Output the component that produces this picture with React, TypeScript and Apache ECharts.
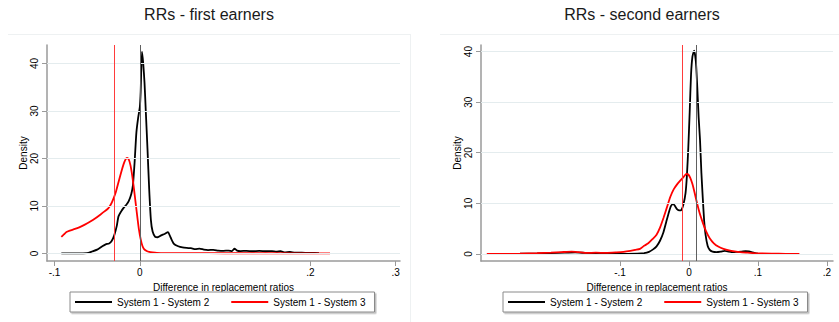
import React, { useEffect, useRef } from 'react';
import * as echarts from 'echarts';

// ---- Data ----
const titles = ['RRs - first earners', 'RRs - second earners'];
const seriesNames = ['System 1 - System 2', 'System 1 - System 3'];
const xAxisTitle = 'Difference in replacement ratios';
const yAxisTitle = 'Density';

const yTicks = [0, 10, 20, 30, 40];
const leftXTicks = [-0.1, 0, 0.2, 0.3];
const rightXTicks = [-0.1, 0, 0.1, 0.2];

// Left panel: first earners
const leftS2X = [-0.092, -0.075, -0.062, -0.056, -0.050, -0.044, -0.040, -0.036, -0.033, -0.030, -0.027, -0.025, -0.022, -0.019, -0.016, -0.013, -0.010, -0.008, -0.006, -0.004, -0.002, 0.000, 0.001, 0.0025, 0.004, 0.0055, 0.007, 0.009, 0.011, 0.013, 0.015, 0.018, 0.021, 0.025, 0.029, 0.033, 0.036, 0.040, 0.045, 0.050, 0.055, 0.060, 0.065, 0.070, 0.075, 0.080, 0.086, 0.092, 0.098, 0.104, 0.108, 0.111, 0.114, 0.118, 0.125, 0.132, 0.140, 0.148, 0.155, 0.160, 0.165, 0.170, 0.176, 0.182, 0.190, 0.198, 0.205, 0.210];
const leftS2Y = [0, 0, 0.05, 0.4, 0.8, 1.5, 1.9, 2.1, 2.6, 3.8, 5.8, 7.8, 8.8, 9.6, 10.2, 11, 12.5, 14.5, 19.5, 25.5, 28.5, 30.8, 34, 42.5, 40, 36, 30, 22, 13.5, 7, 4.6, 3.5, 3.4, 3.8, 4.1, 4.5, 3.4, 2.0, 1.5, 1.25, 1.15, 1.1, 0.9, 1.0, 0.8, 0.7, 0.75, 0.6, 0.55, 0.6, 0.5, 1.0, 0.6, 0.5, 0.55, 0.45, 0.55, 0.45, 0.5, 0.35, 0.45, 0.2, 0.3, 0.15, 0.15, 0.1, 0.12, 0.05];
const leftS3X = [-0.092, -0.089, -0.086, -0.082, -0.077, -0.071, -0.065, -0.058, -0.052, -0.046, -0.041, -0.037, -0.034, -0.031, -0.028, -0.025, -0.022, -0.019, -0.017, -0.015, -0.013, -0.011, -0.009, -0.007, -0.005, -0.003, -0.001, 0.001, 0.003, 0.005, 0.008, 0.011, 0.015, 0.02, 0.03, 0.05, 0.08, 0.12, 0.16, 0.2, 0.223];
const leftS3Y = [3.5, 4.0, 4.5, 4.8, 5.1, 5.5, 6.0, 6.7, 7.4, 8.2, 8.9, 9.5, 10.3, 11.5, 13.0, 15.0, 17.0, 18.8, 19.7, 20.1, 19.8, 18.6, 16.5, 13.8, 10.8, 7.8, 5.0, 3.0, 1.6, 0.9, 0.5, 0.3, 0.2, 0.12, 0.07, 0.05, 0.04, 0.03, 0.03, 0.02, 0.02];
const leftMeanS2 = 0.001;
const leftMeanS3 = -0.03;

// Right panel: second earners
const rightS2X = [-0.245, -0.22, -0.20, -0.18, -0.165, -0.15, -0.13, -0.11, -0.09, -0.075, -0.065, -0.058, -0.052, -0.047, -0.042, -0.037, -0.033, -0.029, -0.026, -0.023, -0.020, -0.017, -0.014, -0.011, -0.008, -0.005, -0.003, -0.001, 0.001, 0.003, 0.005, 0.0075, 0.010, 0.012, 0.014, 0.016, 0.018, 0.020, 0.022, 0.024, 0.027, 0.030, 0.034, 0.040, 0.046, 0.052, 0.058, 0.064, 0.070, 0.076, 0.082, 0.087, 0.092, 0.096, 0.100];
const rightS2Y = [0.05, 0.1, 0.15, 0.25, 0.3, 0.2, 0.1, 0.05, 0.02, 0.05, 0.15, 0.4, 0.9, 1.5, 2.6, 4.3, 6.3, 8.3, 9.5, 9.9, 9.4, 8.8, 8.6, 8.7, 9.8, 12.0, 15.5, 21, 28, 35.5, 39, 40.2, 38, 33, 27, 22.5, 16, 11, 6.5, 3.8, 1.6, 0.8, 0.45, 0.35, 0.45, 0.6, 0.45, 0.35, 0.4, 0.45, 0.55, 0.5, 0.3, 0.15, 0.05];
const rightS3X = [-0.293, -0.27, -0.245, -0.22, -0.20, -0.185, -0.17, -0.16, -0.148, -0.135, -0.12, -0.105, -0.095, -0.085, -0.078, -0.071, -0.065, -0.059, -0.053, -0.047, -0.042, -0.037, -0.032, -0.027, -0.022, -0.017, -0.012, -0.008, -0.004, -0.001, 0.002, 0.005, 0.008, 0.011, 0.014, 0.017, 0.021, 0.025, 0.030, 0.036, 0.043, 0.050, 0.058, 0.066, 0.074, 0.085, 0.10, 0.12, 0.14, 0.16];
const rightS3Y = [0, 0, 0.05, 0.15, 0.25, 0.35, 0.45, 0.35, 0.2, 0.25, 0.2, 0.3, 0.4, 0.6, 0.8, 1.0, 1.6, 2.1, 2.9, 3.8, 5.2, 7.1, 9.2, 11.3, 12.8, 13.8, 14.6, 15.2, 15.8, 15.7, 15.0, 13.8, 12.2, 10.4, 8.8, 7.4, 5.8, 4.4, 3.1, 2.1, 1.4, 1.0, 0.7, 0.5, 0.35, 0.25, 0.12, 0.05, 0.02, 0.0];
const rightMeanS2 = 0.005;
const rightMeanS3 = -0.009;

const FONT = '"Liberation Sans", Arial, Helvetica, sans-serif';
const BLACK = '#000000';
const RED = '#ff0000';
const GRID_LINE = '#e4ecee';
const AXIS = '#9a9a9a';

function pairs(xs: number[], ys: number[]) {
  return xs.map((x, i) => [x, ys[i]]);
}

function stataFmt(v: number) {
  if (Math.abs(v) < 1e-9) return '0';
  const s = String(+v.toFixed(4));
  return s.replace(/^(-?)0\./, '$1.');
}

function makeXAxis(gridIndex: number, min: number, max: number, ticks: number[]) {
  return {
    type: 'value',
    gridIndex,
    min,
    max,
    name: xAxisTitle,
    nameLocation: 'middle',
    nameGap: 21,
    nameTextStyle: { fontSize: 10, color: '#000', fontFamily: FONT },
    axisLine: { show: true, onZero: false, lineStyle: { color: AXIS, width: 1.5 } },
    axisTick: { show: true, length: 5, customValues: ticks, lineStyle: { color: AXIS, width: 1 } },
    axisLabel: { customValues: ticks, formatter: stataFmt, fontSize: 10, color: '#000', fontFamily: FONT, margin: 6 },
    splitLine: { show: false },
  };
}

function makeYAxis(gridIndex: number, min: number, max: number) {
  return {
    type: 'value',
    gridIndex,
    min,
    max,
    name: yAxisTitle,
    nameLocation: 'middle',
    nameGap: 18,
    nameRotate: 90,
    nameTextStyle: { fontSize: 10, color: '#000', fontFamily: FONT },
    axisLine: { show: true, onZero: false, lineStyle: { color: AXIS, width: 1.5 } },
    axisTick: { show: true, length: 5, customValues: yTicks, lineStyle: { color: AXIS, width: 1 } },
    axisLabel: { customValues: yTicks, rotate: 90, fontSize: 10, color: '#000', fontFamily: FONT, margin: 8 },
    splitLine: { show: false },
  };
}

function helperSeries(idx: number, meanS2: number, meanS3: number) {
  return [
    {
      type: 'line',
      xAxisIndex: idx,
      yAxisIndex: idx,
      data: [],
      silent: true,
      z: 1,
      markLine: {
        silent: true,
        symbol: ['none', 'none'],
        label: { show: false },
        emphasis: { disabled: true },
        lineStyle: { color: GRID_LINE, width: 1, type: 'solid' },
        data: yTicks.map((v) => ({ yAxis: v })),
      },
    },
    {
      type: 'line',
      xAxisIndex: idx,
      yAxisIndex: idx,
      data: [],
      silent: true,
      z: 2,
      markLine: {
        silent: true,
        symbol: ['none', 'none'],
        label: { show: false },
        emphasis: { disabled: true },
        data: [
          { xAxis: meanS3, lineStyle: { color: '#ff3b3b', width: 1, type: 'solid' } },
          { xAxis: meanS2, lineStyle: { color: '#606060', width: 1, type: 'solid' } },
        ],
      },
    },
  ];
}

function densitySeries(idx: number, name: string, data: number[][], color: string) {
  return {
    name,
    type: 'line',
    xAxisIndex: idx,
    yAxisIndex: idx,
    data,
    showSymbol: false,
    symbol: 'none',
    smooth: 0.2,
    z: 3,
    lineStyle: { color, width: 1.8 },
    itemStyle: { color },
    emphasis: { disabled: true },
  };
}

function legendAt(left: number) {
  return {
    left,
    top: 292,
    orient: 'horizontal',
    data: seriesNames,
    icon: 'rect',
    itemWidth: 37,
    itemHeight: 2,
    itemGap: 22,
    padding: [4, 9, 4, 5],
    borderColor: '#8a8a8a',
    borderWidth: 1,
    backgroundColor: '#ffffff',
    shadowColor: 'rgba(0,0,0,0.25)',
    shadowOffsetX: 1.5,
    shadowOffsetY: 1.5,
    shadowBlur: 0,
    selectedMode: false,
    textStyle: { fontSize: 10, color: '#000', fontFamily: FONT, lineHeight: 12 },
  };
}

export default function App() {
  const ref = useRef<HTMLDivElement>(null);
  useEffect(() => {
    if (!ref.current) return;
    const chart = echarts.init(ref.current, undefined, { renderer: 'svg' });
    chart.setOption({
      animation: false,
      backgroundColor: '#ffffff',
      textStyle: { fontFamily: FONT },
      title: [
        { text: titles[0], left: 209, top: 6, textAlign: 'center', padding: 0, textStyle: { fontSize: 16, fontWeight: 'normal', color: '#1a1a1a', fontFamily: FONT } },
        { text: titles[1], left: 642, top: 6, textAlign: 'center', padding: 0, textStyle: { fontSize: 16, fontWeight: 'normal', color: '#1a1a1a', fontFamily: FONT } },
      ],
      grid: [
        { left: 47, top: 45, width: 353, height: 216 },
        { left: 481, top: 45, width: 352, height: 216 },
      ],
      xAxis: [
        makeXAxis(0, -0.1088, 0.305, leftXTicks),
        makeXAxis(1, -0.3014, 0.2087, rightXTicks),
      ],
      yAxis: [makeYAxis(0, -1.6, 43.9), makeYAxis(1, -1.4, 41.3)],
      legend: [legendAt(70), legendAt(503)],
      graphic: [
        { type: 'line', shape: { x1: 8, y1: 34.5, x2: 410, y2: 34.5 }, style: { stroke: '#eef1f2', lineWidth: 1 }, silent: true },
        { type: 'line', shape: { x1: 440, y1: 34.5, x2: 839, y2: 34.5 }, style: { stroke: '#eef1f2', lineWidth: 1 }, silent: true },
        { type: 'line', shape: { x1: 410.5, y1: 34, x2: 410.5, y2: 322 }, style: { stroke: '#eef1f2', lineWidth: 1 }, silent: true },
      ],
      series: [
        ...helperSeries(0, leftMeanS2, leftMeanS3),
        ...helperSeries(1, rightMeanS2, rightMeanS3),
        densitySeries(0, seriesNames[0], pairs(leftS2X, leftS2Y), BLACK),
        densitySeries(0, seriesNames[1], pairs(leftS3X, leftS3Y), RED),
        densitySeries(1, seriesNames[0], pairs(rightS2X, rightS2Y), BLACK),
        densitySeries(1, seriesNames[1], pairs(rightS3X, rightS3Y), RED),
      ],
    });
    return () => chart.dispose();
  }, []);
  return (
    <div
      ref={ref}
      style={{ position: 'fixed', left: 0, top: 0, width: 839, height: 322, background: '#fff' }}
    />
  );
}
